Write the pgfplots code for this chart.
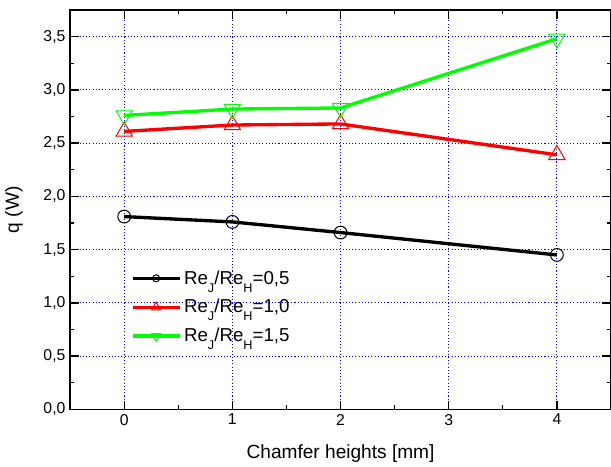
\documentclass[border=0pt]{standalone}
\usepackage{pgfplots}
\pgfplotsset{compat=1.18}
\usepackage{fontspec}
\setmainfont{Liberation Sans}
\definecolor{pgreen}{RGB}{0,255,0}
\definecolor{pred}{RGB}{255,0,0}
\newcommand{\sub}[1]{\raisebox{-6pt}{\fontsize{9.5}{9.5}\selectfont #1}}
\begin{document}
\begin{tikzpicture}
    \begin{axis}[
        scale only axis,
        width=405pt,
        height=299pt,
        xmin=-0.5, xmax=4.5,
        ymin=0, ymax=3.75,
        xtick={0,1,2,3,4},
        minor xtick={-0.5,0.5,1.5,2.5,3.5,4.5},
        ytick={0,0.5,...,3.5},
        minor ytick={0.25,0.75,...,3.75},
        tick align=inside,
        major tick length=6.5pt,
        minor tick length=3pt,
        tick style={black, line width=1pt},
        axis line style={line width=1.2pt},
        grid=major,
        major grid style={blue, dash pattern=on 0.8pt off 1.6pt, line width=0.7pt},
        /pgf/number format/assume math mode=true,
        y tick label style={/pgf/number format/.cd, use comma, fixed, fixed zerofill, precision=1},
        tick label style={font=\fontsize{11.8}{13}\selectfont},
        xlabel={Chamfer heights [mm]},
        ylabel={q (W)},
        label style={font=\fontsize{14.3}{16}\selectfont},
        x label style={at={(axis description cs:0.5,-0.112)}, anchor=center},
        y label style={at={(axis description cs:-0.104,0.5)}, anchor=center},
        legend style={draw=none, fill=none, at={(0.112,0.355)}, anchor=north west,
            font=\fontsize{14}{16}\selectfont, row sep=6pt, inner sep=0pt},
        legend cell align=left,
        legend image code/.code={
            \draw[mark repeat=2, mark phase=2, #1, every mark/.append style={scale=0.55}]
                plot coordinates {(0cm,0cm) (0.62cm,0cm) (1.24cm,0cm)};
        },
    ]
        \addplot[black, line width=2.5pt, mark=o, mark size=4.8pt, mark options={solid, line width=0.75pt, fill=white}]
            coordinates {(0,1.81) (1,1.76) (2,1.66) (4,1.45)};
        \addlegendentry{Re\sub{J}/Re\sub{H}=0,5}
        \addplot[pred, line width=2.5pt, mark=triangle, mark size=7pt, mark options={solid, line width=0.75pt, fill=white}]
            coordinates {(0,2.61) (1,2.67) (2,2.68) (4,2.39)};
        \addlegendentry{Re\sub{J}/Re\sub{H}=1,0}
        \addplot[pgreen, line width=2.5pt, mark=triangle, mark size=7pt, mark options={solid, rotate=180, line width=0.75pt, fill=white}]
            coordinates {(0,2.76) (1,2.82) (2,2.83) (4,3.48)};
        \addlegendentry{Re\sub{J}/Re\sub{H}=1,5}
    \end{axis}
    \pgfresetboundingbox
    \path[use as bounding box] ([shift={(-52.5pt,-43pt)}]current axis.south west)
        rectangle ([shift={(0pt,7.5pt)}]current axis.north east);
\end{tikzpicture}
\end{document}
